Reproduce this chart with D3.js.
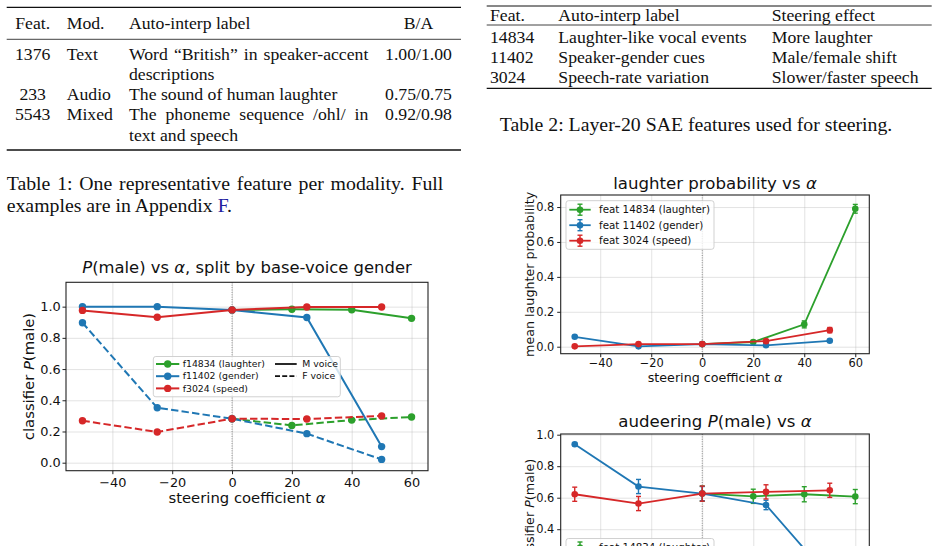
<!DOCTYPE html>
<html>
<head>
<meta charset="utf-8">
<script src="https://cdn.jsdelivr.net/npm/d3@7"></script>
<style>
  body { margin: 0; background: #fff; }
  svg { display: block; }
</style>
</head>
<body>
<svg id="page"></svg>
<script>
// ---- Daten: Tabellen ----
const t1Header = ["Feat.", "Mod.", "Auto-interp label", "B/A"];
const t1Feat   = ["1376", "233", "5543"];
const t1Mod    = ["Text", "Audio", "Mixed"];
const t1Label  = [
  ["Word \u201CBritish\u201D in speaker-accent", "descriptions"],
  ["The sound of human laughter"],
  ["The phoneme sequence /ohl/ in", "text and speech"]
];
const t1BA     = ["1.00/1.00", "0.75/0.75", "0.92/0.98"];
const t1Caption = ["Table 1: One representative feature per modality. Full", "examples are in Appendix "];

const t2Header = ["Feat.", "Auto-interp label", "Steering effect"];
const t2Feat   = ["14834", "11402", "3024"];
const t2Label  = ["Laughter-like vocal events", "Speaker-gender cues", "Speech-rate variation"];
const t2Effect = ["More laughter", "Male/female shift", "Slower/faster speech"];
const t2Caption = "Table 2: Layer-20 SAE features used for steering.";

// ---- Daten: Diagramme ----
const alphaLaugh = [0, 20, 40, 60];          // f14834 nur positive Werte
const alphaSym   = [-50, -25, 0, 25, 50];    // f11402, f3024
const xTicks     = [-40, -20, 0, 20, 40, 60];

// Abb. A: P(male), getrennt nach Grundstimme
const maleM_laugh  = [0.979, 0.983, 0.980, 0.925];
const maleF_laugh  = [0.282, 0.239, 0.273, 0.293];
const maleM_gender = [1.000, 1.000, 0.979, 0.930, 0.103];
const maleF_gender = [0.897, 0.352, 0.282, 0.186, 0.021];
const maleM_speed  = [0.976, 0.932, 0.979, 0.998, 0.998];
const maleF_speed  = [0.269, 0.197, 0.282, 0.280, 0.300];

// Abb. B: mittlere Lach-Wahrscheinlichkeit (+ Fehlerbalken)
const laugh_laugh     = [0.015, 0.027, 0.128, 0.790];
const laugh_laughErr  = [0.004, 0.008, 0.020, 0.025];
const laugh_gender    = [0.057, 0.002, 0.015, 0.008, 0.034];
const laugh_genderErr = [0.004, 0.003, 0.004, 0.003, 0.004];
const laugh_speed     = [0.002, 0.015, 0.015, 0.032, 0.095];
const laugh_speedErr  = [0.002, 0.005, 0.004, 0.008, 0.015];

// Abb. C: audeering P(male) (+ Fehlerbalken)
const aud_laugh     = [0.626, 0.609, 0.622, 0.607];
const aud_laughErr  = [0.048, 0.045, 0.048, 0.045];
const aud_gender    = [0.939, 0.671, 0.626, 0.554, 0.090];
const aud_genderErr = [0.008, 0.045, 0.045, 0.030, 0.030];
const aud_speed     = [0.622, 0.563, 0.626, 0.637, 0.647];
const aud_speedErr  = [0.045, 0.045, 0.048, 0.045, 0.045];

const legendShort = ["f14834 (laughter)", "f11402 (gender)", "f3024 (speed)"];
const legendLong  = ["feat 14834 (laughter)", "feat 11402 (gender)", "feat 3024 (speed)"];
const colors = ["#2ca02c", "#1f77b4", "#d62728"];

// ---- Seite ----
const W = 939, H = 546;
const svg = d3.select("#page")
  .attr("width", W).attr("height", H)
  .attr("viewBox", `0 0 ${W} ${H}`);

const serif = "'Liberation Serif', 'Times New Roman', serif";
const sans  = "'DejaVu Sans', sans-serif";
const tFs = 17.7, capFs = 19.8;

function rule(g, x1, x2, y, w) {
  g.append("line")
    .attr("x1", x1).attr("x2", x2).attr("y1", y).attr("y2", y)
    .attr("stroke", "#111").attr("stroke-width", w);
}

// Blocksatz: Leerzeichen strecken, bis die Zeile die Breite füllt
function justify(sel, width) {
  const node = sel.node();
  const nat = node.getComputedTextLength();
  const spaces = (node.textContent.match(/ /g) || []).length;
  if (spaces) sel.attr("word-spacing", (width - nat) / spaces);
}

function rich(sel, parts) {
  parts.forEach(p => sel.append("tspan")
    .attr("font-style", p.i ? "italic" : null)
    .text(p.t));
  return sel;
}

// ---- Tabelle 1 ----
const t1 = svg.append("g")
  .attr("font-family", serif).attr("font-size", tFs).attr("fill", "#111");
rule(t1, 6.7, 461, 7.3, 1.3);
rule(t1, 6.7, 461, 39.3, 0.8);
rule(t1, 6.7, 461, 150, 1.3);

const t1Cols = [
  { x: 32.7,  anchor: "middle" },
  { x: 66.7,  anchor: "start" },
  { x: 129,   anchor: "start" },
  { x: 418.5, anchor: "middle" }
];
t1Header.forEach((h, i) => t1.append("text")
  .attr("x", t1Cols[i].x).attr("y", 29)
  .attr("text-anchor", t1Cols[i].anchor).text(h));

let line = 0;
const firstBase = 59.5, gap = 20.3;
t1Feat.forEach((f, i) => {
  const yb = firstBase + line * gap;
  t1.append("text").attr("x", t1Cols[0].x).attr("y", yb).attr("text-anchor", "middle").text(f);
  t1.append("text").attr("x", t1Cols[1].x).attr("y", yb).text(t1Mod[i]);
  t1.append("text").attr("x", t1Cols[3].x).attr("y", yb).attr("text-anchor", "middle").text(t1BA[i]);
  t1Label[i].forEach((l, k) => {
    const t = t1.append("text").attr("x", t1Cols[2].x).attr("y", yb + k * gap).text(l);
    if (k < t1Label[i].length - 1) justify(t, 368.3 - 129);
  });
  line += t1Label[i].length;
});

const cap1 = svg.append("g")
  .attr("font-family", serif).attr("font-size", capFs).attr("fill", "#111");
justify(cap1.append("text").attr("x", 6.7).attr("y", 190).text(t1Caption[0]), 443.3 - 6.7);
const c2 = cap1.append("text").attr("x", 6.7).attr("y", 211.5);
c2.append("tspan").text(t1Caption[1]);
c2.append("tspan").attr("fill", "#2020a0").text("F");
c2.append("tspan").text(".");

// ---- Tabelle 2 ----
const t2 = svg.append("g")
  .attr("font-family", serif).attr("font-size", tFs).attr("fill", "#111");
rule(t2, 486.7, 931.7, 6, 1.0);
rule(t2, 486.7, 931.7, 25, 0.8);
rule(t2, 486.7, 931.7, 88.3, 1.3);
const t2X = [490, 558.3, 771.7];
t2Header.forEach((h, i) => t2.append("text").attr("x", t2X[i]).attr("y", 21).text(h));
t2Feat.forEach((f, i) => {
  const yb = 42.7 + i * 20;
  [f, t2Label[i], t2Effect[i]].forEach((v, j) =>
    t2.append("text").attr("x", t2X[j]).attr("y", yb).text(v));
});
svg.append("text")
  .attr("x", 696).attr("y", 131)
  .attr("text-anchor", "middle")
  .attr("font-family", serif).attr("font-size", capFs).attr("fill", "#111")
  .text(t2Caption);

// ---- Diagramm-Panel ----
function panel(p) {
  const x = d3.scaleLinear().domain([-55.5, 65.5]).range([p.left, p.right]);
  const y = d3.scaleLinear().domain(p.yDomain).range([p.bottom, p.top]);
  const w = p.right - p.left, h = p.bottom - p.top;
  const g = svg.append("g").attr("font-family", sans);

  // Gitterlinien
  g.append("g")
    .attr("transform", `translate(0,${p.bottom})`)
    .call(d3.axisBottom(x).tickValues(xTicks).tickSize(-h).tickFormat(""))
    .call(s => s.select(".domain").remove())
    .selectAll("line")
    .attr("stroke", "#b0b0b0").attr("stroke-opacity", 0.4).attr("stroke-width", 0.9);
  g.append("g")
    .attr("transform", `translate(${p.left},0)`)
    .call(d3.axisLeft(y).tickValues(p.yTicks).tickSize(-w).tickFormat(""))
    .call(s => s.select(".domain").remove())
    .selectAll("line")
    .attr("stroke", "#b0b0b0").attr("stroke-opacity", 0.4).attr("stroke-width", 0.9);

  // alpha = 0
  g.append("line")
    .attr("x1", x(0)).attr("x2", x(0)).attr("y1", p.top).attr("y2", p.bottom)
    .attr("stroke", "#808080").attr("stroke-width", 0.9)
    .attr("stroke-dasharray", "1,1.4");

  // Reihen
  const line = d3.line().x(d => x(d[0])).y(d => y(d[1]));
  p.series.forEach(s => {
    const pts = s.xs.map((a, i) => [a, s.ys[i], s.err ? s.err[i] : 0]);
    g.append("path").datum(pts)
      .attr("d", line)
      .attr("fill", "none")
      .attr("stroke", s.color)
      .attr("stroke-width", p.lw)
      .attr("stroke-dasharray", s.dash ? "7.4,3.2" : null);
    if (s.err) {
      const eb = g.append("g").attr("stroke", s.color).attr("stroke-width", 1.4);
      pts.forEach(d => {
        const cx = x(d[0]), y1 = y(d[1] - d[2]), y2 = y(d[1] + d[2]);
        eb.append("line").attr("x1", cx).attr("x2", cx).attr("y1", y1).attr("y2", y2);
        eb.append("line").attr("x1", cx - 2.5).attr("x2", cx + 2.5).attr("y1", y1).attr("y2", y1);
        eb.append("line").attr("x1", cx - 2.5).attr("x2", cx + 2.5).attr("y1", y2).attr("y2", y2);
      });
    }
    g.append("g").selectAll("circle")
      .data(pts)
      .join("circle")
      .attr("cx", d => x(d[0]))
      .attr("cy", d => y(d[1]))
      .attr("r", p.r)
      .attr("fill", s.color);
  });

  // Rahmen
  g.append("rect")
    .attr("x", p.left).attr("y", p.top).attr("width", w).attr("height", h)
    .attr("fill", "none").attr("stroke", "#222").attr("stroke-width", 1.1);

  // Achsen (x-Achse nur, wenn sie im Bild liegt)
  if (p.bottom < H) {
    const xa = g.append("g")
      .attr("transform", `translate(0,${p.bottom})`)
      .call(d3.axisBottom(x).tickValues(xTicks).tickSize(3.5).tickPadding(p.xPad).tickFormat(d3.format("d")));
    xa.attr("font-size", p.tickFs).attr("font-family", sans);
    xa.select(".domain").remove();
    xa.selectAll("line").attr("stroke", "#222");
    xa.selectAll("text").attr("fill", "#111");

    rich(g.append("text")
      .attr("x", (p.left + p.right) / 2).attr("y", p.xLabelY)
      .attr("text-anchor", "middle").attr("font-size", p.labelFs).attr("fill", "#111"),
      [{ t: "steering coefficient " }, { t: "\u03B1", i: true }]);
  }

  const ya = g.append("g")
    .attr("transform", `translate(${p.left},0)`)
    .call(d3.axisLeft(y).tickValues(p.yTicks.filter(v => y(v) < H)).tickSize(3.5).tickPadding(p.yPad).tickFormat(d3.format(".1f")));
  ya.attr("font-size", p.tickFs).attr("font-family", sans);
  ya.select(".domain").remove();
  ya.selectAll("line").attr("stroke", "#222");
  ya.selectAll("text").attr("fill", "#111");

  // Titel und y-Beschriftung
  rich(g.append("text")
    .attr("x", (p.left + p.right) / 2).attr("y", p.titleY)
    .attr("text-anchor", "middle").attr("font-size", p.titleFs).attr("fill", "#111"), p.title);
  rich(g.append("text")
    .attr("transform", `translate(${p.yLabelX},${(p.top + p.bottom) / 2}) rotate(-90)`)
    .attr("text-anchor", "middle").attr("font-size", p.labelFs).attr("fill", "#111"), p.yLabel);

  return { g, x, y };
}

function legendBox(g, x0, y0, w, h) {
  g.append("rect")
    .attr("x", x0).attr("y", y0).attr("width", w).attr("height", h)
    .attr("rx", 2.5)
    .attr("fill", "#fff").attr("fill-opacity", 0.8)
    .attr("stroke", "#cccccc").attr("stroke-width", 0.9);
}

// ---- Abb. A ----
const A = panel({
  left: 66, right: 428, top: 282.3, bottom: 470.7,
  yDomain: [-0.0513, 1.156], yTicks: [0, 0.2, 0.4, 0.6, 0.8, 1.0],
  lw: 2, r: 3.7, tickFs: 12.9, labelFs: 14.8, titleFs: 16.4,
  xPad: 3.3, yPad: 1.8,
  titleY: 272.8, xLabelY: 503, yLabelX: 33.8,
  title: [{ t: "P", i: true }, { t: "(male) vs " }, { t: "\u03B1", i: true }, { t: ", split by base-voice gender" }],
  yLabel: [{ t: "classifier " }, { t: "P", i: true }, { t: "(male)" }],
  series: [
    { xs: alphaLaugh, ys: maleM_laugh,  color: colors[0] },
    { xs: alphaLaugh, ys: maleF_laugh,  color: colors[0], dash: true },
    { xs: alphaSym,   ys: maleM_gender, color: colors[1] },
    { xs: alphaSym,   ys: maleF_gender, color: colors[1], dash: true },
    { xs: alphaSym,   ys: maleM_speed,  color: colors[2] },
    { xs: alphaSym,   ys: maleF_speed,  color: colors[2], dash: true }
  ]
});

// Legende A
const lgA = A.g.append("g").attr("font-size", 9.3);
legendBox(lgA, 153.3, 356.5, 187, 40.3);
legendShort.forEach((name, i) => {
  const ry = 364 + i * 12.2;
  lgA.append("line").attr("x1", 156).attr("x2", 179.3).attr("y1", ry).attr("y2", ry)
    .attr("stroke", colors[i]).attr("stroke-width", 2);
  lgA.append("circle").attr("cx", 167.7).attr("cy", ry).attr("r", 3.7).attr("fill", colors[i]);
  lgA.append("text").attr("x", 182.7).attr("y", ry).attr("dy", "0.35em").attr("fill", "#111").text(name);
});
["M voice", "F voice"].forEach((name, i) => {
  const ry = 364 + i * 12.2;
  lgA.append("line").attr("x1", 275).attr("x2", 296.7).attr("y1", ry).attr("y2", ry)
    .attr("stroke", "#111").attr("stroke-width", 1.8)
    .attr("stroke-dasharray", i ? "5,2.2" : null);
  lgA.append("text").attr("x", 302.3).attr("y", ry).attr("dy", "0.35em").attr("fill", "#111").text(name);
});

// Legende mit Fehlerbalken-Symbol; Zeilen unterhalb des Bildes entfallen
function errLegend(g, x0, y0) {
  const lg = g.append("g").attr("font-size", 10.3);
  legendBox(lg, x0, y0, 148, 48.6);
  legendLong.forEach((name, i) => {
    const ry = y0 + 9 + i * 15.5;
    if (ry - 6 > H) return;
    const cx = x0 + 14;
    lg.append("line").attr("x1", x0 + 3.3).attr("x2", x0 + 24.7).attr("y1", ry).attr("y2", ry)
      .attr("stroke", colors[i]).attr("stroke-width", 1.8);
    lg.append("line").attr("x1", cx).attr("x2", cx).attr("y1", ry - 5.5).attr("y2", ry + 5.5)
      .attr("stroke", colors[i]).attr("stroke-width", 1.4);
    [-5.5, 5.5].forEach(o => lg.append("line")
      .attr("x1", cx - 2.5).attr("x2", cx + 2.5).attr("y1", ry + o).attr("y2", ry + o)
      .attr("stroke", colors[i]).attr("stroke-width", 1.4));
    lg.append("circle").attr("cx", cx).attr("cy", ry).attr("r", 3.3).attr("fill", colors[i]);
    lg.append("text").attr("x", x0 + 33).attr("y", ry).attr("dy", "0.35em").attr("fill", "#111").text(name);
  });
}

// ---- Abb. B ----
const B = panel({
  left: 560.7, right: 869.3, top: 195, bottom: 353.7,
  yDomain: [-0.040, 0.869], yTicks: [0, 0.2, 0.4, 0.6, 0.8],
  lw: 1.8, r: 3.3, tickFs: 11.4, labelFs: 12.7, titleFs: 16.6,
  xPad: 2.2, yPad: 2.9,
  titleY: 188.5, xLabelY: 381.8, yLabelX: 533.8,
  title: [{ t: "laughter probability vs " }, { t: "\u03B1", i: true }],
  yLabel: [{ t: "mean laughter probability" }],
  series: [
    { xs: alphaLaugh, ys: laugh_laugh,  err: laugh_laughErr,  color: colors[0] },
    { xs: alphaSym,   ys: laugh_gender, err: laugh_genderErr, color: colors[1] },
    { xs: alphaSym,   ys: laugh_speed,  err: laugh_speedErr,  color: colors[2] }
  ]
});
errLegend(B.g, 566, 200.7);

// ---- Abb. C (unten abgeschnitten) ----
const C = panel({
  left: 560.7, right: 869.3, top: 434, bottom: 592.7,
  yDomain: [-0.003, 1.0044], yTicks: [0, 0.2, 0.4, 0.6, 0.8, 1.0],
  lw: 1.8, r: 3.3, tickFs: 11.4, labelFs: 12.7, titleFs: 16.6,
  xPad: 2.2, yPad: 2.9,
  titleY: 427, xLabelY: 620.8, yLabelX: 533.8,
  title: [{ t: "audeering " }, { t: "P", i: true }, { t: "(male) vs " }, { t: "\u03B1", i: true }],
  yLabel: [{ t: "classifier " }, { t: "P", i: true }, { t: "(male)" }],
  series: [
    { xs: alphaLaugh, ys: aud_laugh,  err: aud_laughErr,  color: colors[0] },
    { xs: alphaSym,   ys: aud_gender, err: aud_genderErr, color: colors[1] },
    { xs: alphaSym,   ys: aud_speed,  err: aud_speedErr,  color: colors[2] }
  ]
});
errLegend(C.g, 566, 538.5);
</script>
</body>
</html>
